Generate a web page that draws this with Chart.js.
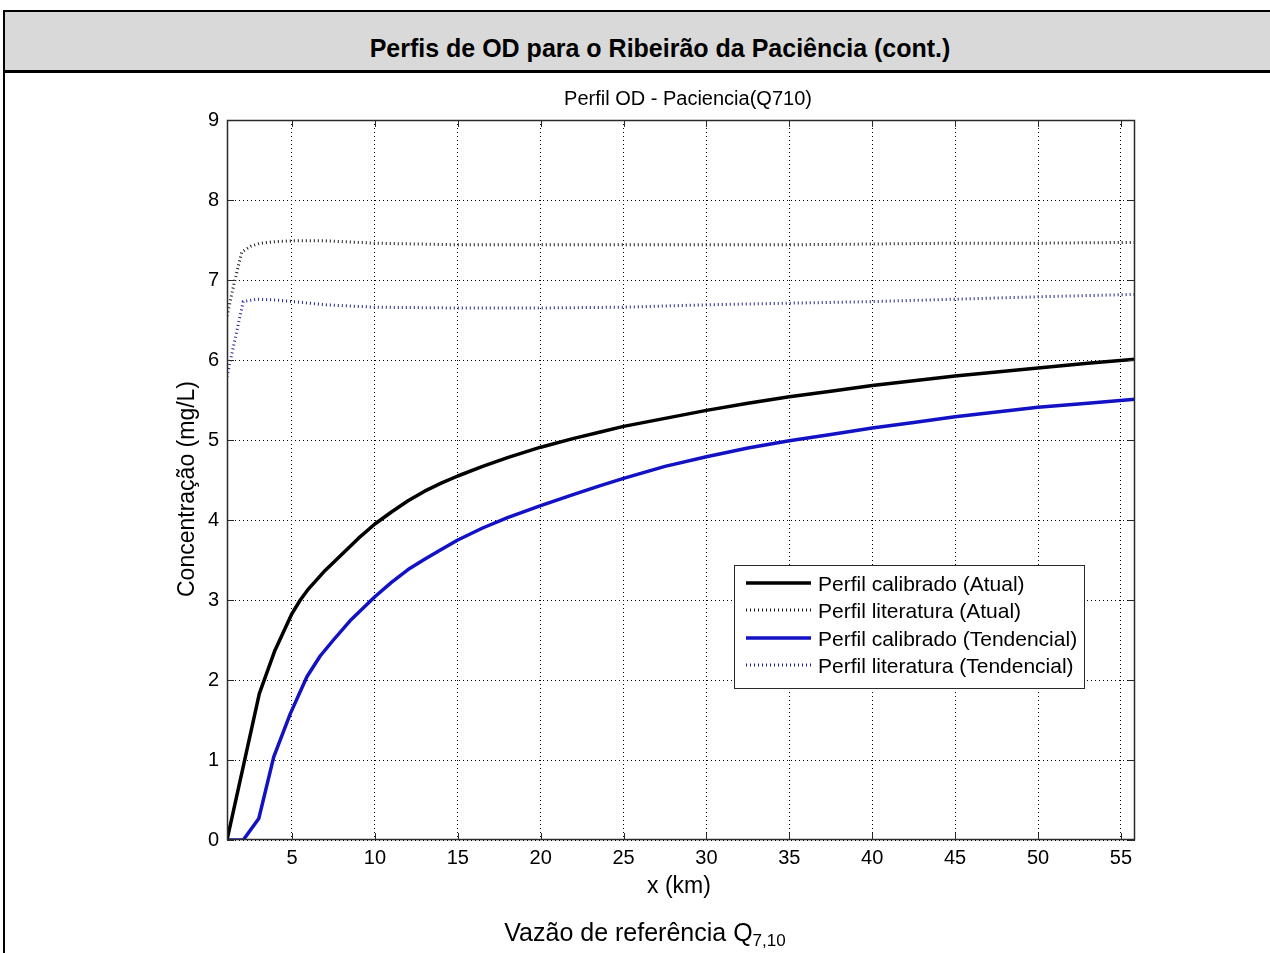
<!DOCTYPE html>
<html>
<head>
<meta charset="utf-8">
<script src="https://cdn.jsdelivr.net/npm/chart.js@4/dist/chart.umd.min.js"></script>
<style>
  html, body { margin: 0; padding: 0; background: #fff; }
  body { width: 1270px; height: 953px; position: relative; overflow: hidden; font-family: "Liberation Sans", Arial, sans-serif; }
  #frame { position: absolute; left: 3px; top: 10px; width: 1290px; height: 960px; border-left: 2px solid #000; border-top: 2px solid #000; box-sizing: border-box; }
  #header { position: absolute; left: 3px; top: 10px; width: 1290px; height: 63px; background: #d9d9d9; border-top: 2px solid #000; border-left: 2px solid #000; border-bottom: 3px solid #000; box-sizing: border-box; }
  #header span { position: absolute; left: 0; width: 1310px; top: 36px; transform: translateY(-50%); text-align: center; font-weight: bold; font-size: 25px; color: #000; white-space: nowrap; }
  #footer { position: absolute; left: 10px; width: 1270px; top: 918px; text-align: center; font-size: 25px; color: #000; white-space: nowrap; }
  #footer sub { font-size: 17px; vertical-align: -5px; }
  canvas { position: absolute; left: 0; top: 0; }
</style>
</head>
<body>
<div id="frame"></div>
<div id="header"><span>Perfis de OD para o Ribeirão da Paciência (cont.)</span></div>
<canvas id="c" width="1270" height="953"></canvas>
<div id="footer">Vazão de referência Q<sub>7,10</sub></div>
<script>
// ---- data ----
const chartTitle = "Perfil OD - Paciencia(Q710)";
const xTitle = "x (km)";
const yTitle = "Concentração (mg/L)";
const seriesLabels = ["Perfil calibrado (Atual)", "Perfil literatura (Atual)", "Perfil calibrado (Tendencial)", "Perfil literatura (Tendencial)"];

const xCalAtual = [1.08, 3.03, 3.97, 5, 5.5, 6, 7, 8, 9, 10, 11, 12, 13, 14, 15, 16.5, 18, 20, 22, 23.6, 25, 27.5, 30, 32.5, 35, 37.5, 40, 42.5, 45, 47.5, 50, 53, 55.85];
const yCalAtual = [0, 1.83, 2.37, 2.83, 3.0, 3.14, 3.37, 3.57, 3.77, 3.95, 4.1, 4.24, 4.36, 4.46, 4.55, 4.67, 4.78, 4.91, 5.02, 5.1, 5.17, 5.27, 5.37, 5.46, 5.54, 5.61, 5.68, 5.74, 5.8, 5.85, 5.9, 5.96, 6.01];

const xLitAtual = [1.08, 1.5, 1.97, 2.5, 3.07, 4, 5.1, 7, 10, 15, 20, 25, 30, 35, 40, 45, 50, 55.85];
const yLitAtual = [6.55, 6.95, 7.35, 7.42, 7.46, 7.48, 7.49, 7.49, 7.46, 7.44, 7.44, 7.44, 7.44, 7.44, 7.45, 7.46, 7.46, 7.47];

const xCalTend = [1.08, 2.06, 3.0, 3.9, 4.9, 5.9, 6.7, 7.5, 8.5, 10, 11, 12, 13, 13.9, 15, 16.5, 18, 20, 22, 23.6, 25, 27.5, 30, 32.5, 35, 37.5, 40, 42.5, 45, 47.5, 50, 53, 55.85];
const yCalTend = [0, 0, 0.27, 1.04, 1.58, 2.04, 2.3, 2.5, 2.74, 3.04, 3.22, 3.38, 3.51, 3.62, 3.75, 3.9, 4.03, 4.18, 4.32, 4.43, 4.52, 4.67, 4.79, 4.9, 4.99, 5.07, 5.15, 5.22, 5.29, 5.35, 5.41, 5.46, 5.51];

const xLitTend = [1.08, 1.5, 2.06, 2.87, 4, 5.08, 7, 10, 15, 20, 25, 30, 35, 40, 45, 50, 55.85];
const yLitTend = [5.79, 6.2, 6.73, 6.76, 6.75, 6.73, 6.69, 6.66, 6.65, 6.65, 6.66, 6.69, 6.71, 6.73, 6.76, 6.79, 6.82];

const xTicks = [5, 10, 15, 20, 25, 30, 35, 40, 45, 50, 55];
const yTicks = [0, 1, 2, 3, 4, 5, 6, 7, 8, 9];
const xRange = [1.08, 55.85];
const yRange = [0, 9];

// ---- build ----
const pts = (xs, ys) => xs.map((x, i) => ({ x: x, y: ys[i] }));
const FONT = '"Liberation Sans", Arial, sans-serif';

const styles = [
  { color: '#000000', width: 3.5, dash: [] },
  { color: '#1a1a1a', width: 3, dash: [1, 3] },
  { color: '#1212c4', width: 3.5, dash: [] },
  { color: '#25258f', width: 3, dash: [1, 3] }
];
const seriesData = [pts(xCalAtual, yCalAtual), pts(xLitAtual, yLitAtual), pts(xCalTend, yCalTend), pts(xLitTend, yLitTend)];

const datasets = seriesData.map((d, i) => ({
  label: seriesLabels[i],
  data: d,
  borderColor: styles[i].color,
  borderWidth: styles[i].width,
  borderDash: styles[i].dash,
  borderJoinStyle: 'round',
  pointRadius: 0,
  fill: false,
  tension: 0
}));

const decor = {
  id: 'decor',
  afterDraw(chart) {
    const ctx = chart.ctx;
    const a = chart.chartArea;
    const xs = chart.scales.x, ys = chart.scales.y;
    ctx.save();
    // frame
    ctx.strokeStyle = '#2a2a2a';
    ctx.lineWidth = 1.5;
    ctx.setLineDash([]);
    ctx.strokeRect(a.left + 0.5, a.top + 0.5, a.right - a.left - 1, a.bottom - a.top - 1);
    // inner ticks
    const tl = 7;
    ctx.lineWidth = 1;
    ctx.beginPath();
    xTicks.forEach(v => {
      const px = Math.round(xs.getPixelForValue(v)) + 0.5;
      ctx.moveTo(px, a.bottom); ctx.lineTo(px, a.bottom - tl);
      ctx.moveTo(px, a.top); ctx.lineTo(px, a.top + tl);
    });
    yTicks.forEach(v => {
      const py = Math.round(ys.getPixelForValue(v)) + 0.5;
      ctx.moveTo(a.left, py); ctx.lineTo(a.left + tl, py);
      ctx.moveTo(a.right, py); ctx.lineTo(a.right - tl, py);
    });
    ctx.stroke();
    // titles
    ctx.fillStyle = '#000';
    ctx.textAlign = 'center';
    ctx.textBaseline = 'middle';
    ctx.font = '20px ' + FONT;
    ctx.fillText(chartTitle, 688, 99);
    ctx.font = '23px ' + FONT;
    ctx.fillText(xTitle, 679, 887);
    ctx.save();
    ctx.translate(188, 489);
    ctx.rotate(-Math.PI / 2);
    ctx.fillText(yTitle, 0, 0);
    ctx.restore();
    // legend
    const lx = 734, ly = 565, lw = 350, lh = 123;
    ctx.fillStyle = '#fff';
    ctx.fillRect(lx, ly, lw, lh);
    ctx.strokeStyle = '#2a2a2a';
    ctx.lineWidth = 1;
    ctx.strokeRect(lx + 0.5, ly + 0.5, lw, lh);
    ctx.font = '21px ' + FONT;
    ctx.textAlign = 'left';
    const rows = [583, 610, 638, 665];
    datasets.forEach((ds, i) => {
      ctx.beginPath();
      ctx.strokeStyle = ds.borderColor;
      ctx.lineWidth = ds.borderWidth;
      ctx.setLineDash(ds.borderDash);
      ctx.moveTo(746, rows[i]);
      ctx.lineTo(811, rows[i]);
      ctx.stroke();
      ctx.setLineDash([]);
      ctx.fillStyle = '#000';
      ctx.fillText(ds.label, 818, rows[i] + 2);
    });
    ctx.restore();
  }
};

new Chart(document.getElementById('c'), {
  type: 'line',
  data: { datasets: datasets },
  options: {
    responsive: false,
    animation: false,
    events: [],
    layout: { padding: { left: 0, top: 120, right: 135, bottom: 0 } },
    plugins: { legend: { display: false }, title: { display: false }, tooltip: { enabled: false } },
    scales: {
      x: {
        type: 'linear',
        min: xRange[0], max: xRange[1],
        afterFit(s) { s.height = 113; },
        afterBuildTicks(s) { s.ticks = xTicks.map(v => ({ value: v })); },
        grid: { color: '#000', lineWidth: 1, drawTicks: false },
        border: { display: false, dash: [1, 3] },
        ticks: { color: '#000', font: { family: FONT, size: 20 }, padding: 6, maxRotation: 0, autoSkip: false }
      },
      y: {
        type: 'linear',
        min: yRange[0], max: yRange[1],
        afterFit(s) { s.width = 227; },
        afterBuildTicks(s) { s.ticks = yTicks.map(v => ({ value: v })); },
        grid: { color: '#000', lineWidth: 1, drawTicks: false },
        border: { display: false, dash: [1, 3] },
        ticks: { color: '#000', font: { family: FONT, size: 20 }, padding: 8, autoSkip: false }
      }
    }
  },
  plugins: [decor]
});
</script>
</body>
</html>
